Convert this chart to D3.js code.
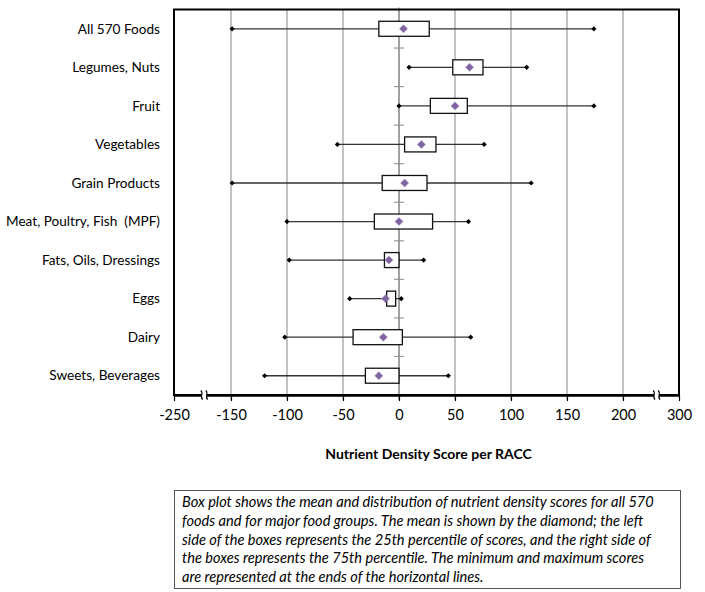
<!DOCTYPE html>
<html>
<head>
<meta charset="utf-8">
<script src="https://cdn.jsdelivr.net/npm/d3@7"></script>
<style>
	body { margin: 0; background: #fff; }
	svg { display: block; font-family: Lato, "Open Sans", sans-serif; }
</style>
</head>
<body>
<div id="graphe"></div>
<script>
"use strict";

// données
var categories = ["All 570 Foods", "Legumes, Nuts", "Fruit", "Vegetables", "Grain Products",
		"Meat, Poultry, Fish\u00a0 (MPF)", "Fats, Oils, Dressings", "Eggs", "Dairy", "Sweets, Beverages"],
	minimum = [-149, 9, 0, -55, -149, -100, -98, -44, -102, -120],
	q1 = [-18, 48, 28, 5, -15, -22, -13, -11, -41, -30],
	moyenne = [4, 63, 50, 20, 5, 0, -9, -12, -14, -18],
	q3 = [27, 75, 61, 33, 25, 30, 0, -3, 3, 0],
	maximum = [174, 114, 174, 76, 118, 62, 22, 2, 64, 44],
	ticks = [-250, -150, -100, -50, 0, 50, 100, 150, 200, 300],
	ruptures = [-197, 260]; // axe coupé entre -250/-150 et 200/300

var legende = [
	"Box plot shows the mean and distribution of nutrient density scores for all 570",
	"foods and for major food groups. The mean is shown by the diamond; the left",
	"side of the boxes represents the 25th percentile of scores, and the right side of",
	"the boxes represents the 75th percentile. The minimum and maximum scores",
	"are represented at the ends of the horizontal lines."
];

var dim = { width: 705, height: 592, left: 174, right: 679, top: 9.5, bottom: 395 };

var svg = d3.select("#graphe").append("svg")
	.attr("width", dim.width)
	.attr("height", dim.height);

// échelle polylinéaire : les deux segments extrêmes sont compressés (axe coupé)
var x = d3.scaleLinear()
	.domain([-250, -150, 200, 300])
	.range([dim.left, 231, 623, dim.right]);

var y = d3.scaleBand()
	.domain(categories)
	.range([dim.top, dim.bottom]);

var donnees = categories.map((c, i) => ({
	cat: c, min: minimum[i], q1: q1[i], moy: moyenne[i], q3: q3[i], max: maximum[i]
}));

// losange carré (carré tourné de 45°)
var losange = r => "M0," + (-r) + "L" + r + ",0L0," + r + "L" + (-r) + ",0Z";

// grilles verticales, prolongées sous l'axe comme graduations
svg.append("g")
	.selectAll("line")
	.data(ticks.filter(t => t > -250 && t < 300))
	.enter().append("line")
		.attr("x1", d => x(d)).attr("x2", d => x(d))
		.attr("y1", dim.top).attr("y2", dim.bottom + 5)
		.attr("stroke", "#9a9a9a")
		.attr("stroke-width", 1.2);

// axe vertical au zéro : petites graduations entre catégories
var bornes = categories.map(c => y(c)).concat([dim.bottom]);
svg.append("g")
	.selectAll("line")
	.data(bornes)
	.enter().append("line")
		.attr("x1", x(0) - 5).attr("x2", x(0) + 5)
		.attr("y1", d => d).attr("y2", d => d)
		.attr("stroke", "#9a9a9a")
		.attr("stroke-width", 1.2);
svg.append("line")
	.attr("x1", x(0)).attr("x2", x(0))
	.attr("y1", dim.top - 2).attr("y2", dim.bottom + 5)
	.attr("stroke", "#8a8a8a")
	.attr("stroke-width", 1.2);

// cadre
svg.append("rect")
	.attr("x", dim.left).attr("y", dim.top)
	.attr("width", dim.right - dim.left).attr("height", dim.bottom - dim.top)
	.attr("fill", "none")
	.attr("stroke", "#000")
	.attr("stroke-width", 2);

// axe X
var axeX = svg.append("g")
	.attr("transform", "translate(0," + dim.bottom + ")")
	.call(d3.axisBottom(x).tickValues(ticks).tickSize(6).tickSizeOuter(0).tickFormat(d3.format("d")));
axeX.select(".domain").attr("stroke", "#000").attr("stroke-width", 2.5);
axeX.selectAll(".tick line").attr("stroke", "#000").attr("stroke-width", 1.2);
axeX.selectAll(".tick text")
	.attr("y", 15)
	.attr("font-size", 14.5)
	.attr("font-family", "Lato, sans-serif")
	.attr("fill", "#000")
	.text(d => d < 0 ? "-" + Math.abs(d) : d);

// marques de rupture
var rupt = svg.append("g").selectAll("g")
	.data(ruptures)
	.enter().append("g")
		.attr("transform", d => "translate(" + x(d) + "," + dim.bottom + ")");
rupt.append("rect")
	.attr("x", -2.5).attr("y", -3).attr("width", 5).attr("height", 6)
	.attr("fill", "#fff");
rupt.selectAll("path")
	.data([-2.5, 2.5])
	.enter().append("path")
		.attr("d", dx => "M" + (dx - 1) + ",-4.5 C" + (dx + 2.5) + ",-2 " + (dx - 2.5) + ",2 " + (dx + 1) + ",4.5")
		.attr("fill", "none")
		.attr("stroke", "#000")
		.attr("stroke-width", 1.1);

// libellés des catégories
svg.append("g")
	.selectAll("text")
	.data(categories)
	.enter().append("text")
		.attr("x", 160)
		.attr("y", d => y(d) + y.bandwidth() / 2)
		.attr("dy", "0.35em")
		.attr("text-anchor", "end")
		.attr("font-size", 13.6)
		.attr("fill", "#000")
		.text(d => d);

// boîtes à moustaches
var boites = svg.append("g")
	.selectAll("g")
	.data(donnees)
	.enter().append("g")
		.attr("transform", d => "translate(0," + (y(d.cat) + y.bandwidth() / 2) + ")");

boites.append("line")
	.attr("x1", d => x(d.min)).attr("x2", d => x(d.max))
	.attr("stroke", "#333")
	.attr("stroke-width", 1.3);

boites.append("rect")
	.attr("x", d => x(d.q1))
	.attr("y", -7.5)
	.attr("width", d => x(d.q3) - x(d.q1))
	.attr("height", 15)
	.attr("fill", "#fff")
	.attr("stroke", "#111")
	.attr("stroke-width", 1.3);

boites.selectAll(".bout")
	.data(d => [d.min, d.max])
	.enter().append("path")
		.attr("class", "bout")
		.attr("d", losange(2.6))
		.attr("transform", d => "translate(" + x(d) + ",0)")
		.attr("fill", "#000");

boites.append("path")
	.attr("d", losange(4))
	.attr("transform", d => "translate(" + x(d.moy) + ",0)")
	.attr("fill", "#8064a2")
	.attr("stroke", "#9d86bd")
	.attr("stroke-width", 0.6);

// titre de l'axe
svg.append("text")
	.attr("x", (dim.left + dim.right) / 2 + 2)
	.attr("y", 459)
	.attr("text-anchor", "middle")
	.attr("font-size", 14)
	.attr("font-weight", "bold")
	.text("Nutrient Density Score per RACC");

// encadré explicatif
svg.append("rect")
	.attr("x", 174.5).attr("y", 490.5)
	.attr("width", 506).attr("height", 98)
	.attr("fill", "#fff")
	.attr("stroke", "#555")
	.attr("stroke-width", 1);
svg.append("g")
	.selectAll("text")
	.data(legende)
	.enter().append("text")
		.attr("x", 182)
		.attr("y", (d, i) => 507 + i * 18.8)
		.attr("font-size", 14.6)
		.attr("font-style", "italic")
		.text(d => d);
</script>
</body>
</html>
